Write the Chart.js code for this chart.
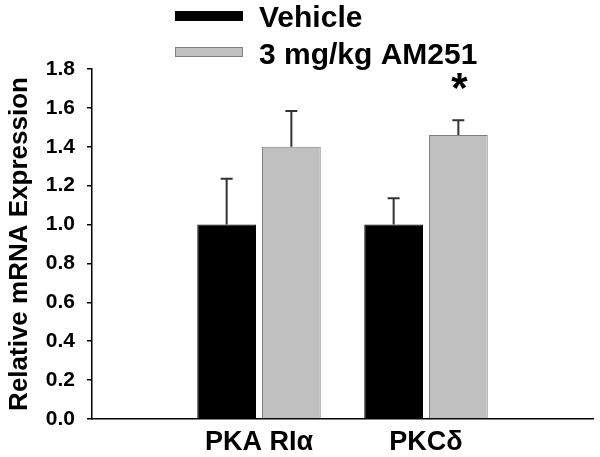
<!DOCTYPE html>
<html>
<head>
<meta charset="utf-8">
<script src="https://cdn.jsdelivr.net/npm/chart.js@4"></script>
<style>
  html, body { margin: 0; padding: 0; background: #fff; }
  #wrap { width: 600px; height: 457px; }
</style>
</head>
<body>
<div id="wrap"><canvas id="expChart" width="600" height="457"></canvas></div>
<script>
// values
const categories = ['PKA RI\u03b1', 'PKC\u03b4'];
const seriesNames = ['Vehicle', '3 mg/kg AM251'];
const vehicleMeans = [1.0, 1.0];
const vehicleErr = [0.236, 0.135];
const am251Means = [1.40, 1.46];
const am251Err = [0.184, 0.077];
const significant = [false, true];   // asterisk over the AM251 bar
const starLevel = 1.73;
const yTicks = [0.0, 0.2, 0.4, 0.6, 0.8, 1.0, 1.2, 1.4, 1.6, 1.8];

const FONT = "'Liberation Sans', Arial, sans-serif";

// blank slots either side so the groups sit at 1/3 and 2/3 of the axis
const labels = [''].concat(categories, ['']);
function pad(arr) { return [null].concat(arr, [null]); }

// draws the upward error bars from the bar tops
const errorBars = {
    id: 'errorBars',
    afterDatasetsDraw(chart) {
        const ctx = chart.ctx;
        const yScale = chart.scales.y;
        chart.data.datasets.forEach((ds, di) => {
            const meta = chart.getDatasetMeta(di);
            ds.errors.forEach((err, i) => {
                const v = ds.data[i];
                if (v == null || err == null) return;
                const bar = meta.data[i];
                const yTop = yScale.getPixelForValue(v);
                const yEnd = yScale.getPixelForValue(v + err);
                ctx.save();
                ctx.strokeStyle = '#333';
                ctx.lineWidth = 2;
                ctx.beginPath();
                ctx.moveTo(bar.x, yTop);
                ctx.lineTo(bar.x, yEnd);
                ctx.moveTo(bar.x - 6, yEnd);
                ctx.lineTo(bar.x + 6, yEnd);
                ctx.stroke();
                ctx.restore();
            });
        });
    }
};

// significance star
const stars = {
    id: 'stars',
    afterDatasetsDraw(chart) {
        const ctx = chart.ctx;
        const meta = chart.getDatasetMeta(1);
        const yScale = chart.scales.y;
        significant.forEach((sig, i) => {
            if (!sig) return;
            const bar = meta.data[i + 1];
            ctx.save();
            ctx.fillStyle = '#000';
            ctx.font = 'bold 42px ' + FONT;
            ctx.textAlign = 'center';
            ctx.textBaseline = 'middle';
            ctx.fillText('*', bar.x + 1, yScale.getPixelForValue(starLevel) + 8);
            ctx.restore();
        });
    }
};

// two-row legend above the plot
const stackedLegend = {
    id: 'stackedLegend',
    afterDraw(chart) {
        const ctx = chart.ctx;
        chart.data.datasets.forEach((ds, i) => {
            const y = 11 + 36 * i;
            ctx.save();
            ctx.fillStyle = ds.backgroundColor;
            ctx.fillRect(175, y, 68, 10);
            ctx.strokeStyle = ds.borderColor;
            ctx.lineWidth = 1;
            ctx.strokeRect(175.5, y + 0.5, 67, 9);
            ctx.fillStyle = '#000';
            ctx.font = 'bold 30px ' + FONT;
            ctx.textAlign = 'left';
            ctx.textBaseline = 'alphabetic';
            ctx.fillText(ds.label, 259, y + 16 + i);
            ctx.restore();
        });
    }
};

const chart = new Chart(document.getElementById('expChart'), {
    type: 'bar',
    data: {
        labels: labels,
        datasets: [{
            label: seriesNames[0],
            data: pad(vehicleMeans),
            errors: pad(vehicleErr),
            backgroundColor: '#000000',
            borderColor: '#000000',
            borderWidth: 1
        }, {
            label: seriesNames[1],
            data: pad(am251Means),
            errors: pad(am251Err),
            backgroundColor: '#c0c0c0',
            borderColor: '#808080',
            borderWidth: 1
        }]
    },
    options: {
        responsive: false,
        animation: false,
        categoryPercentage: 0.775,
        barPercentage: 0.908,
        layout: { padding: { top: 69, right: 5, left: 0, bottom: 0 } },
        plugins: {
            legend: { display: false },
            tooltip: { enabled: false }
        },
        scales: {
            x: {
                offset: false,
                grid: { display: false, drawTicks: false },
                border: { display: true, color: '#000', width: 1.5 },
                ticks: {
                    color: '#000',
                    font: { family: FONT, size: 27, weight: 'bold' },
                    padding: 7,
                    maxRotation: 0,
                    autoSkip: false
                },
                afterFit(scale) { scale.height = 38; }
            },
            y: {
                min: 0,
                max: 1.8,
                afterBuildTicks(scale) {
                    scale.ticks = yTicks.map(v => ({ value: v }));
                },
                grid: {
                    drawOnChartArea: false,
                    drawTicks: true,
                    tickLength: 5,
                    color: '#000',
                    lineWidth: 1.5
                },
                border: { display: true, color: '#000', width: 1.5 },
                ticks: {
                    color: '#000',
                    padding: 12,
                    font: { family: FONT, size: 21, weight: 'bold' },
                    callback: v => Number(v).toFixed(1)
                },
                title: {
                    display: true,
                    text: 'Relative mRNA Expression',
                    color: '#000',
                    font: { family: FONT, size: 26, weight: 'bold' },
                    padding: { top: 4, bottom: 6 }
                },
                afterFit(scale) { scale.width = 92; }
            }
        }
    },
    plugins: [errorBars, stars, stackedLegend]
});
</script>
</body>
</html>
